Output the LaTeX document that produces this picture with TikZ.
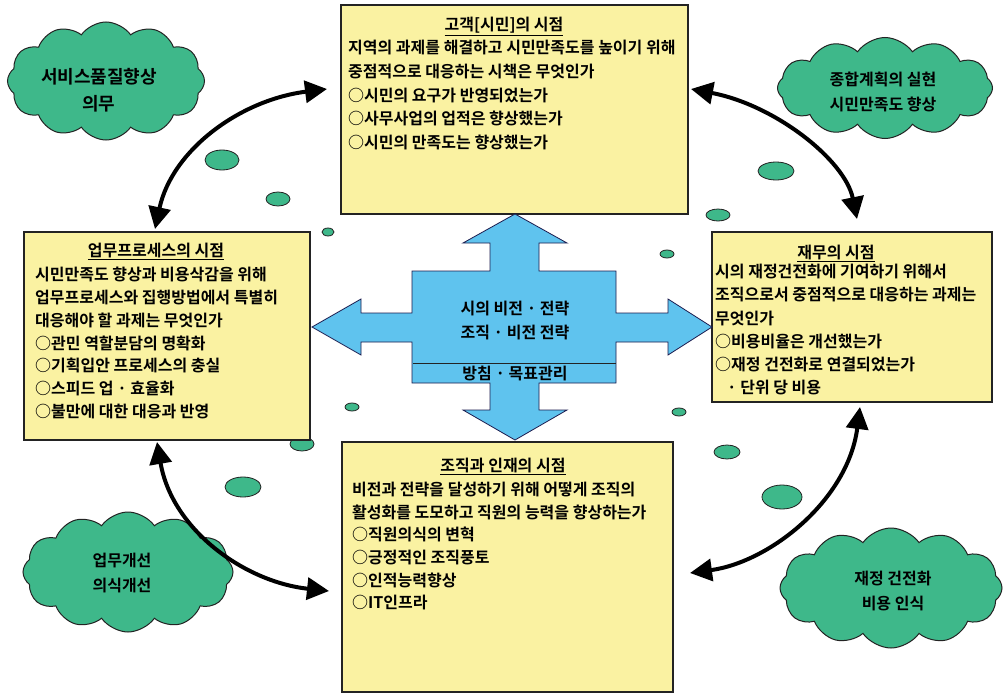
\documentclass[tikz,border=0pt]{standalone}
\usepackage{fontspec}
\newfontfamily\kr{Noto Sans CJK KR Bold}
\usetikzlibrary{shapes.symbols,arrows.meta}
\definecolor{boxfill}{RGB}{250,242,162}
\definecolor{cloudgreen}{RGB}{62,184,138}
\definecolor{arrowblue}{RGB}{95,195,238}
\definecolor{darkline}{RGB}{35,35,35}
\tikzset{
  panel/.style={draw=darkline, line width=1.5pt, fill=boxfill, inner sep=0pt, outer sep=0pt, anchor=north west},
  ptitle/.style={font=\kr\fontsize{16}{18}\selectfont, inner sep=0pt, anchor=base},
  pbody/.style={font=\kr\fontsize{16}{23}\selectfont, inner sep=0pt, anchor=north west, align=left},
  ctext/.style={font=\kr\fontsize{16}{25}\selectfont, inner sep=0pt, align=center},
  puff/.style={cloud, cloud puffs=12, cloud puff arc=110, cloud ignores aspect, draw=darkline, line width=1pt, fill=cloudgreen, inner sep=0pt},
  blob/.style={draw=darkline, line width=0.8pt, fill=cloudgreen},
  bigarrow/.style={line width=4pt, draw=black, {Triangle[length=22pt,width=22pt]}-{Triangle[length=22pt,width=22pt]}},
  atext/.style={font=\kr\fontsize{16}{18}\selectfont, inner sep=0pt}
}
\begin{document}
\begin{tikzpicture}[x=1pt,y=-1pt]
\useasboundingbox[fill=white] (0,0) rectangle (1004,693);

% clouds
\node[puff, minimum width=197pt, minimum height=118pt] (c1) at (106,81) {};
\node[ctext, font=\kr\fontsize{18}{27}\selectfont] (c1t) at (99,90) {서비스품질향상\\의무};
\node[puff, minimum width=215pt, minimum height=101pt] (c2) at (885,88) {};
\node[ctext] (c2t) at (883,92) {종합계획의 실현\\시민만족도 향상};
\node[puff, minimum width=210pt, minimum height=120pt] (c3) at (128,572) {};
\node[ctext] (c3t) at (122,573) {업무개선\\의식개선};
\node[puff, minimum width=222pt, minimum height=120pt] (c4) at (891,588) {};
\node[ctext] (c4t) at (893,591) {재정 건전화\\비용 인식};

% small ellipses
\filldraw[blob] (222,160) ellipse [x radius=17pt, y radius=10pt];
\filldraw[blob] (278,199) ellipse [x radius=12pt, y radius=7pt];
\filldraw[blob] (328,232) ellipse [x radius=6pt, y radius=4pt];
\filldraw[blob] (776,171) ellipse [x radius=18pt, y radius=9pt];
\filldraw[blob] (718,215) ellipse [x radius=12pt, y radius=6pt];
\filldraw[blob] (667,254) ellipse [x radius=7pt, y radius=4pt];
\filldraw[blob] (352,407) ellipse [x radius=7pt, y radius=4pt];
\filldraw[blob] (679,412) ellipse [x radius=7pt, y radius=4pt];
\filldraw[blob] (302,444) ellipse [x radius=12pt, y radius=7pt];
\filldraw[blob] (243,487) ellipse [x radius=18pt, y radius=10pt];
\filldraw[blob] (727,452) ellipse [x radius=13pt, y radius=7pt];
\filldraw[blob] (782,497) ellipse [x radius=20pt, y radius=12pt];

% boxes
\node[panel, minimum width=347pt, minimum height=209pt] (top) at (341,5) {};
\node[panel, minimum width=286pt, minimum height=208pt] (left) at (24,232) {};
\node[panel, minimum width=280pt, minimum height=170pt] (right) at (712,232) {};
\node[panel, minimum width=331pt, minimum height=250pt] (bottom) at (342,442) {};

% titles
\node[ptitle] (topT) at (504,31) {\underline{고객[시민]의 시점}};
\node[ptitle] (leftT) at (156,256) {\underline{업무프로세스의 시점}};
\node[ptitle] (rightT) at (836,258) {\underline{재무의 시점}};
\node[ptitle] (bottomT) at (503,471) {\underline{조직과 인재의 시점}};

% bodies
\node[pbody, font=\kr\fontsize{16}{23.75}\selectfont] (topB) at (348,40) {지역의 과제를 해결하고 시민만족도를 높이기 위해\\중점적으로 대응하는 시책은 무엇인가\\○시민의 요구가 반영되었는가\\○사무사업의 업적은 향상했는가\\○시민의 만족도는 향상했는가};
\node[pbody, font=\kr\fontsize{16}{22.8}\selectfont] (leftB) at (35,267) {시민만족도 향상과 비용삭감을 위해\\업무프로세스와 집행방법에서 특별히\\대응해야 할 과제는 무엇인가\\○관민 역할분담의 명확화\\○기획입안 프로세스의 충실\\○스피드 업 · 효율화\\○불만에 대한 대응과 반영};
\node[pbody, font=\kr\fontsize{16}{23.2}\selectfont] (rightB) at (715,264) {시의 재정건전화에 기여하기 위해서\\조직으로서 중점적으로 대응하는 과제는\\무엇인가\\○비용비율은 개선했는가\\○재정 건전화로 연결되었는가\\\hspace*{12pt}· 단위 당 비용};
\node[pbody, font=\kr\fontsize{16}{22.6}\selectfont] (bottomB) at (352,482) {비전과 전략을 달성하기 위해 어떻게 조직의\\활성화를 도모하고 직원의 능력을 향상하는가\\○직원의식의 변혁\\○긍정적인 조직풍토\\○인적능력향상\\○IT인프라};

% central cross arrow
\filldraw[fill=arrowblue, draw=darkline!80!blue, line width=0.8pt, line join=miter]
 (515,214) -- (567,243) -- (539,243) -- (539,271) -- (616,271) -- (616,313) -- (668,313) -- (668,299) -- (712,327) -- (668,355) -- (668,342) -- (616,342) -- (616,383) -- (539,383) -- (539,410) -- (567,410) -- (515,440) -- (463,410) -- (490,410) -- (490,383) -- (412,383) -- (412,342) -- (361,342) -- (361,355) -- (312,327) -- (361,299) -- (361,313) -- (412,313) -- (412,271) -- (490,271) -- (490,243) -- (463,243) -- cycle;
\draw[darkline, line width=1pt] (413,363) -- (616,363);
\node[atext] (m1) at (515,309) {시의 비전 · 전략};
\node[atext] (m2) at (515,333) {조직 · 비전 전략};
\node[atext] (m3) at (515,373) {방침 · 목표관리};

% curved double arrows
\coordinate (a1s) at (155,229);
\coordinate (a1e) at (327,89);
\coordinate (a2s) at (691,89);
\coordinate (a2e) at (857,219);
\coordinate (a3s) at (157,442);
\coordinate (a3e) at (329,591);
\coordinate (a4s) at (860,407);
\coordinate (a4e) at (690,573);
\draw[bigarrow] (a1s) .. controls (172,150) and (240,100) .. (a1e);
\draw[bigarrow] (a2s) .. controls (775,105) and (845,160) .. (a2e);
\draw[bigarrow] (a3s) .. controls (172,530) and (245,582) .. (a3e);
\draw[bigarrow] (a4s) .. controls (848,500) and (770,562) .. (a4e);
\end{tikzpicture}
\end{document}
